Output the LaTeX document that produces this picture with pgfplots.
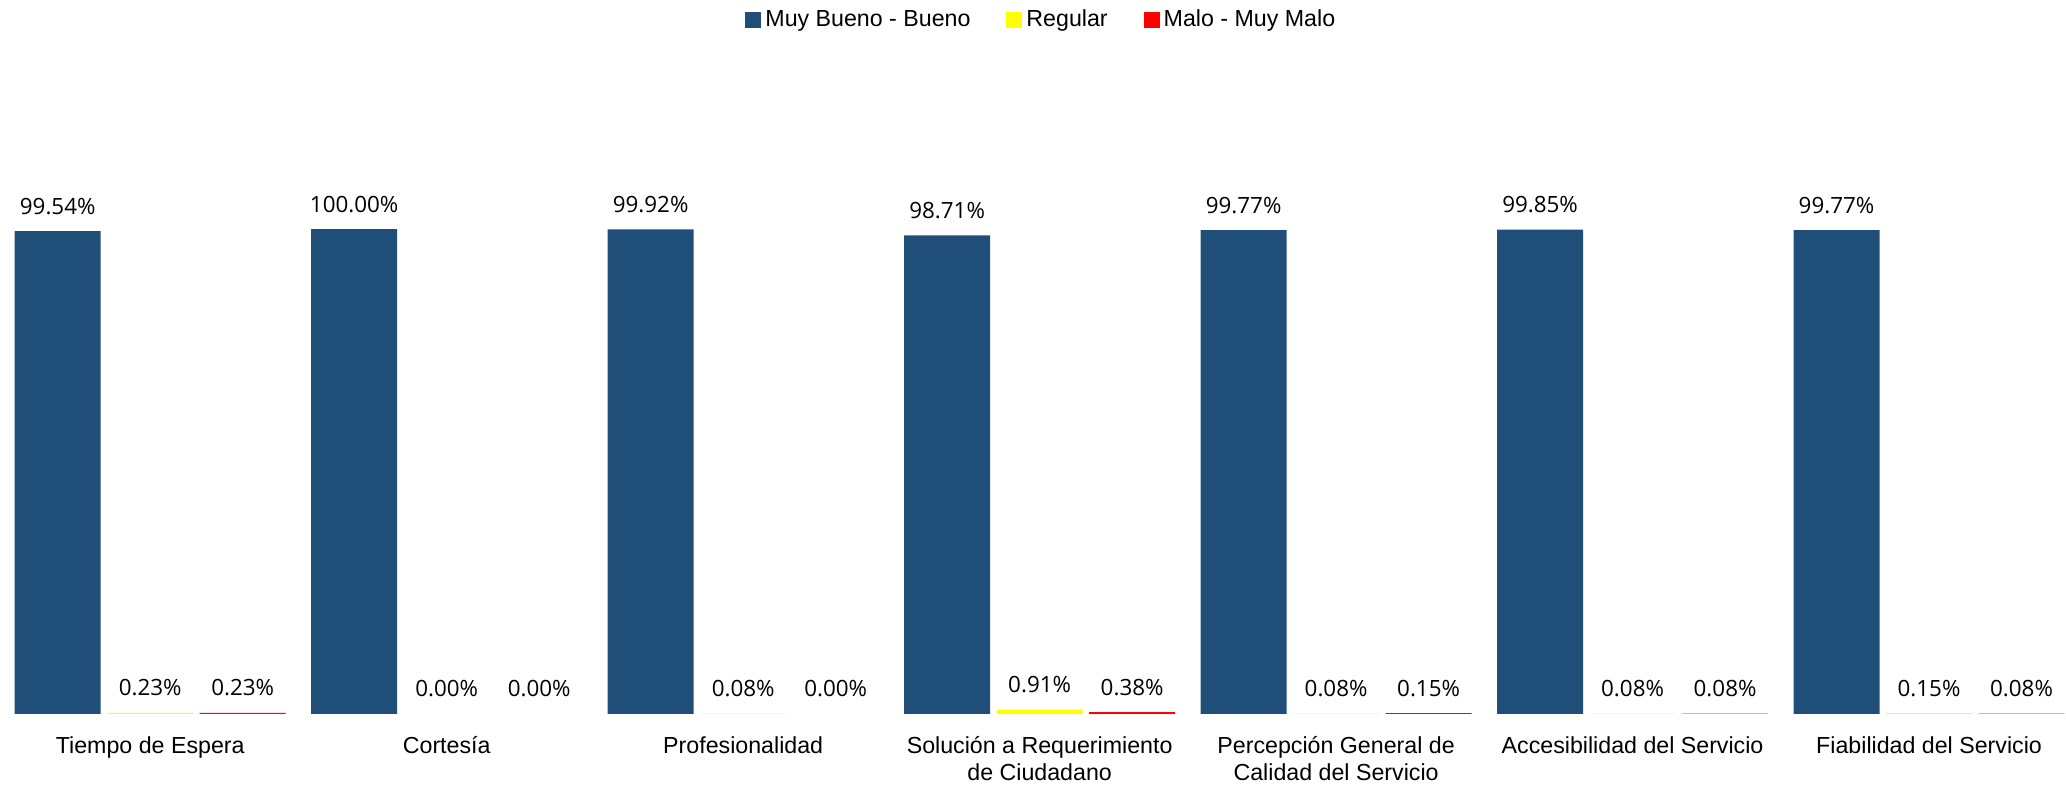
\documentclass[border=0pt]{standalone}
\usepackage{fontspec}
\setmainfont{Liberation Sans}
\newfontfamily\labelfont{Open Sans}
\usepackage{pgfplots}
\pgfplotsset{compat=1.18}
\definecolor{cblue}{RGB}{31,78,121}
\definecolor{cyellow}{RGB}{255,255,0}
\definecolor{cred}{RGB}{255,0,0}
\begin{document}
\begin{tikzpicture}
\begin{axis}[
 scale only axis, width=1033pt, height=327pt,
 xmin=-0.5067, xmax=6.462, ymin=0, ymax=134.85,
 ybar, bar width=0.29,
 axis line style={draw=none}, tick style={draw=none},
 ytick=\empty,
 xtick={0,...,6},
 xticklabels={Tiempo de Espera, Cortesía, Profesionalidad, {Solución a Requerimiento\\de Ciudadano}, {Percepción General de\\Calidad del Servicio}, Accesibilidad del Servicio, Fiabilidad del Servicio},
 xticklabel style={align=center, font=\fontsize{11.6}{13.6}\selectfont, anchor=north, yshift=-3.5pt},
 nodes near coords={\pgfmathprintnumber[fixed,fixed zerofill,precision=2,assume math mode=true]{\pgfplotspointmeta}\%},
 every node near coord/.append style={font=\labelfont\fontsize{11.2}{13}\selectfont, anchor=base, yshift=8.5pt, text=black, inner sep=0pt},
 legend columns=3,
 legend style={at={(0.5045,1.0612)}, anchor=center, draw=none, font=\fontsize{11.6}{13}\selectfont, /tikz/every even column/.append style={column sep=16pt}},
 legend image code/.code={\fill[#1,draw=none] (0pt,-4pt) rectangle (8pt,4pt);},
 clip=false,
]
\addplot[fill=cblue, draw=none, bar shift=-0.312] coordinates {(0,99.54) (1,100) (2,99.92) (3,98.71) (4,99.77) (5,99.85) (6,99.77)};
\addplot[fill=cyellow, draw=none, bar shift=0] coordinates {(0,0.23) (2,0.08) (3,0.91) (4,0.08) (5,0.08) (6,0.15)};
\addplot[fill=cred, draw=none, bar shift=0.312] coordinates {(0,0.23) (3,0.38) (4,0.15) (5,0.08) (6,0.08)};
\addplot[fill=none, draw=none, bar shift=0, forget plot] coordinates {(1,0)};
\addplot[fill=none, draw=none, bar shift=0.312, forget plot] coordinates {(1,0) (2,0)};
\legend{Muy Bueno - Bueno, Regular, Malo - Muy Malo}
\coordinate (BL) at (rel axis cs:0,0);
\coordinate (TR) at (rel axis cs:1,1);
\end{axis}
\pgfresetboundingbox
\path[use as bounding box] ([yshift=-36pt]BL) rectangle ([yshift=30pt]TR);
\end{tikzpicture}
\end{document}
